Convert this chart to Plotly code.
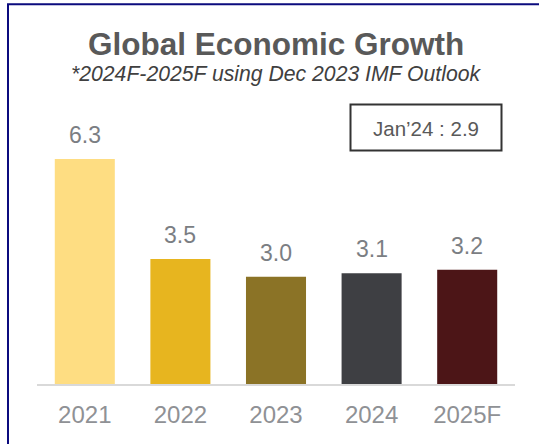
import plotly.graph_objects as go

# Data
years = ["2021", "2022", "2023", "2024", "2025F"]
growth = [6.3, 3.5, 3.0, 3.1, 3.2]
bar_colors = ["#FEDD82", "#E7B51F", "#8B7326", "#3E3F43", "#4C1517"]
title_text = "Global Economic Growth"
subtitle_text = "*2024F-2025F using Dec 2023 IMF Outlook"
callout_text = "Jan\u201924 : 2.9"

# one slot per year on a linear axis, labelled with the year text
slots = list(range(len(years)))

W, H = 539, 444
ML, MR, MT, MB = 37, 24, 100, 60
PW = W - ML - MR
PH = H - MT - MB
Y_MAX = 7.95


def px_x(px):
    return (px - ML) / PW


def px_y(py):
    return (H - MB - py) / PH


FONT = "Liberation Sans, Arial, sans-serif"

fig = go.Figure(
    go.Bar(
        x=slots,
        y=growth,
        width=0.628,
        marker=dict(color=bar_colors, line=dict(width=0)),
        hoverinfo="skip",
    )
)

annotations = []
# value labels above each bar
for s, v in zip(slots, growth):
    annotations.append(dict(
        x=s, y=v, xref="x", yref="y", text=f"{v:.1f}", showarrow=False,
        yanchor="middle", yshift=24,
        font=dict(family=FONT, size=23, color="#7b7e83"),
    ))

# title and subtitle
annotations.append(dict(
    x=0.5, y=px_y(44), xref="paper", yref="paper", text=f"<b>{title_text}</b>",
    showarrow=False, xanchor="center", yanchor="middle",
    font=dict(family=FONT, size=31.5, color="#595959"),
))
annotations.append(dict(
    x=0.5, y=px_y(74), xref="paper", yref="paper", text=f"<i>{subtitle_text}</i>",
    showarrow=False, xanchor="center", yanchor="middle",
    font=dict(family=FONT, size=21.2, color="#404040"),
))
# callout text
annotations.append(dict(
    x=px_x(426), y=px_y(128), xref="paper", yref="paper", text=callout_text,
    showarrow=False, xanchor="center", yanchor="middle",
    font=dict(family=FONT, size=20.5, color="#595959"),
))

shapes = [
    # callout box
    dict(type="rect", xref="paper", yref="paper",
         x0=px_x(350.5), x1=px_x(501.5), y0=px_y(150.5), y1=px_y(104.5),
         line=dict(color="#333333", width=2), fillcolor="rgba(0,0,0,0)"),
    # outer frame (top and left edges visible)
    dict(type="rect", xref="paper", yref="paper",
         x0=px_x(8), x1=px_x(560), y0=px_y(470), y1=px_y(4.2),
         line=dict(color="#0B0B7E", width=2), fillcolor="rgba(0,0,0,0)", layer="above"),
]

fig.update_layout(
    width=W, height=H,
    margin=dict(l=ML, r=MR, t=MT, b=MB, pad=0),
    paper_bgcolor="white", plot_bgcolor="white",
    showlegend=False,
    annotations=annotations,
    shapes=shapes,
    xaxis=dict(
        type="linear",
        range=[-0.5, len(years) - 0.5],
        tickmode="array", tickvals=slots, ticktext=years,
        showline=True, linecolor="#d9d9d9", linewidth=1.5,
        showgrid=False, zeroline=False,
        ticks="outside", ticklen=8, tickcolor="rgba(0,0,0,0)",
        tickfont=dict(family=FONT, size=24, color="#8f9195"),
    ),
    yaxis=dict(
        range=[0, Y_MAX], visible=False, showgrid=False, zeroline=False,
    ),
)

fig.write_html("out.html")
